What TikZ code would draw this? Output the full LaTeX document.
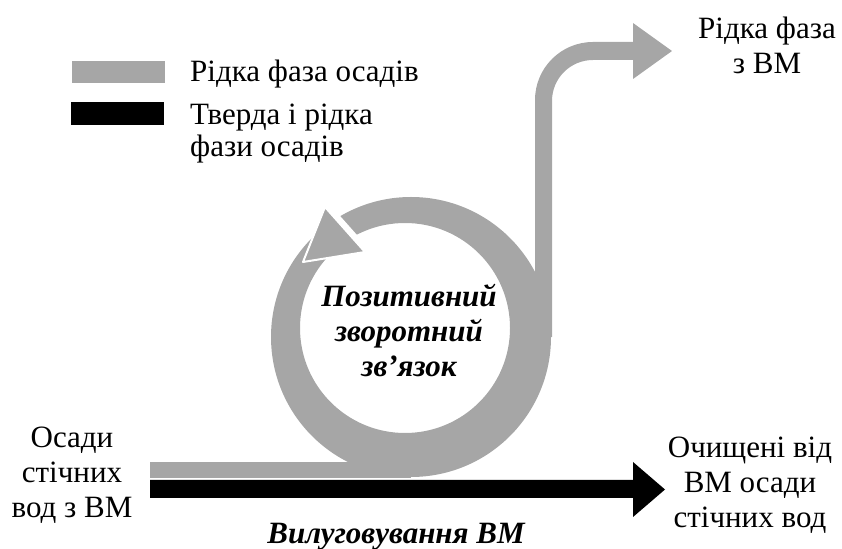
\documentclass[tikz,border=0pt]{standalone}
\usepackage{fontspec}
\setmainfont{Liberation Serif}
\usepackage{tikz}

\begin{document}
\begin{tikzpicture}[x=1pt,y=1pt,line join=round]
\tikzstyle{txt} = [font=\fontsize{31}{35}\selectfont,inner sep=0pt,align=center]
\tikzstyle{bitxt} = [txt,font=\fontsize{31}{35}\selectfont\bfseries\itshape]
\tikzstyle{liquid} = [fill=black!35]
\useasboundingbox (0,0) rectangle (842,548);
% legend
\fill[liquid] (72,465) rectangle (165,487);
\fill (71,423) rectangle (164,446);
% feedback loop
\fill[liquid,even odd rule] (411,211) circle (140) (405,220) circle (105);
\fill[liquid] (150,70) rectangle (411,86);
\fill[liquid] (535,211) -- (535,448) arc (180:90:58) -- (633,506) -- (633,525) -- (672,497)
  -- (633,469) -- (633,488) -- (593,488) arc (90:180:41) -- (552,211) -- cycle;
\draw[white,line width=5] (327,343) -- (367,298);
\filldraw[liquid,draw=white,line width=2] (325,341) -- (365,296) -- (303,286) -- cycle;
% leaching
\fill (150,50) -- (633,50) -- (633,31) -- (665,58.5) -- (633,86) -- (633,68) -- (150,68) -- cycle;
\node[txt,anchor=base west] (liq) at (190,466) {Рідка фаза осадів};
\node[txt,anchor=base west,align=left,font=\fontsize{31}{32}\selectfont] (both) at (190,391) {Тверда і рідка\\фази осадів};
\node[txt,anchor=base] (out) at (767,474) {Рідка фаза\\з ВМ};
\node[txt,anchor=base] (in) at (72,30) {Осади\\стічних\\вод з ВМ};
\node[txt,anchor=base] (clean) at (750,20) {Очищені від\\ВМ осади\\стічних вод};
\node[bitxt,anchor=base] (leach) at (396,5) {Вилуговування ВМ};
\node[bitxt,anchor=base] (loop) at (409,171) {Позитивний\\зворотний\\зв’язок};
\end{tikzpicture}
\end{document}
